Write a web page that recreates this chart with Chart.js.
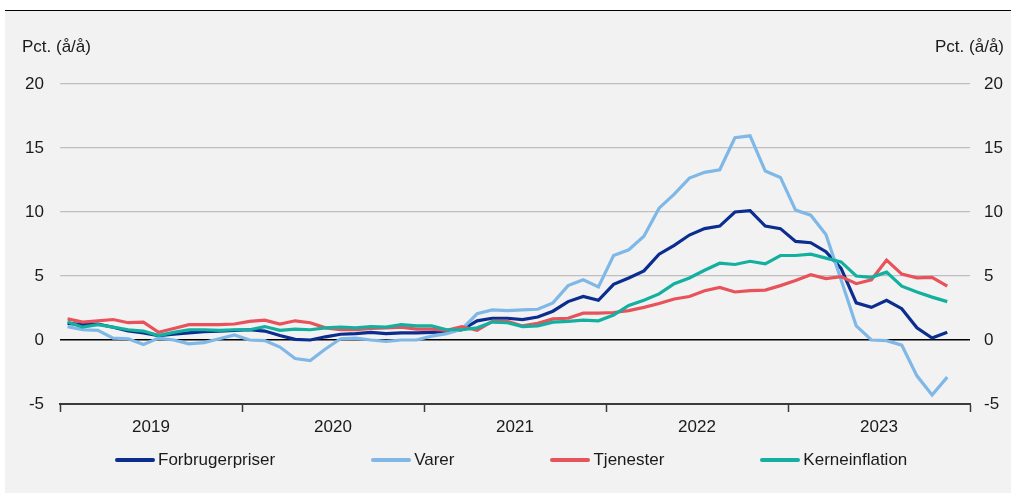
<!DOCTYPE html>
<html lang="da">
<head>
    <meta charset="UTF-8">
    <title>Forbrugerpriser, varer, tjenester og kerneinflation</title>
    <script src="https://cdn.jsdelivr.net/npm/chart.js"></script>
    <style>
        * {
            margin: 0;
            padding: 0;
            box-sizing: border-box;
        }

        body {
            width: 1011px;
            height: 493px;
            background: #fff;
            font-family: 'Liberation Sans', Arial, sans-serif;
            color: #1a1a1a;
            position: relative;
            overflow: hidden;
        }

        /* grey panel with the black rule on top */
        .panel {
            position: absolute;
            left: 5px;
            top: 10px;
            width: 1006px;
            height: 483px;
            background: #f2f2f2;
            border-top: 1px solid #000;
        }

        #chart {
            position: absolute;
            left: 0;
            top: 11px;
        }

        .unit {
            position: absolute;
            top: 37px;
            font-size: 17px;
        }

        .unit.left { left: 22px; }
        .unit.right { right: 7px; }

        /* Legend */
        .legend {
            position: absolute;
            left: 115px;
            top: 450px;
            display: flex;
            gap: 96px;
            font-size: 17px;
        }

        .legend .item {
            display: flex;
            align-items: center;
        }

        .legend .swatch {
            width: 40px;
            height: 4px;
            border-radius: 2px;
            margin-right: 3px;
        }
    </style>
</head>
<body>
    <div class="panel"></div>
    <canvas id="chart" width="1011" height="482"></canvas>
    <div class="unit left">Pct. (å/å)</div>
    <div class="unit right">Pct. (å/å)</div>
    <div class="legend" id="legend"></div>

    <script>
        // monthly values, Jan 2019 - Nov 2023 (pct. y/y)
        var years = [2019, 2020, 2021, 2022, 2023];
        var yTicks = [-5, 0, 5, 10, 15, 20];

        var forbrugerpriser = [
            1.3, 1.2, 1.25, 1.0, 0.7, 0.55, 0.35, 0.45, 0.55, 0.65, 0.7, 0.75,
            0.8, 0.7, 0.35, 0.05, 0.0, 0.25, 0.45, 0.5, 0.6, 0.5, 0.55, 0.55,
            0.6, 0.65, 0.8, 1.5, 1.7, 1.7, 1.6, 1.8, 2.25, 3.0, 3.4, 3.1,
            4.35, 4.85, 5.4, 6.7, 7.4, 8.2, 8.7, 8.9, 10.0, 10.1, 8.9, 8.7,
            7.7, 7.6, 6.9, 5.6, 2.9, 2.55, 3.1, 2.45, 0.95, 0.15, 0.6
        ];
        var varer = [
            1.05, 0.8, 0.75, 0.15, 0.1, -0.35, 0.15, 0.0, -0.3, -0.2, 0.1, 0.4,
            0.0, -0.05, -0.55, -1.45, -1.6, -0.7, 0.1, 0.15, 0.0, -0.1, 0.0, 0.0,
            0.3, 0.5, 0.85, 2.05, 2.35, 2.3, 2.35, 2.4, 2.9, 4.25, 4.7, 4.15,
            6.6, 7.05, 8.1, 10.3, 11.4, 12.65, 13.1, 13.3, 15.8, 15.95, 13.2, 12.7,
            10.15, 9.75, 8.25, 4.7, 1.1, 0.0, -0.05, -0.4, -2.8, -4.3, -2.9
        ];
        var tjenester = [
            1.65, 1.4, 1.5, 1.6, 1.35, 1.4, 0.6, 0.9, 1.2, 1.2, 1.2, 1.25,
            1.45, 1.55, 1.25, 1.5, 1.35, 0.95, 0.8, 0.8, 0.9, 0.95, 1.0, 0.85,
            0.85, 0.75, 1.05, 0.75, 1.45, 1.45, 1.1, 1.3, 1.65, 1.7, 2.1, 2.1,
            2.15, 2.3, 2.55, 2.85, 3.2, 3.4, 3.85, 4.1, 3.75, 3.85, 3.9, 4.25,
            4.65, 5.1, 4.8, 4.95, 4.4, 4.7, 6.25, 5.15, 4.85, 4.9, 4.2
        ];
        var kerneinflation = [
            1.4, 1.0, 1.2, 1.0, 0.8, 0.7, 0.35, 0.6, 0.8, 0.8, 0.75, 0.8,
            0.8, 1.05, 0.75, 0.85, 0.8, 0.95, 1.0, 0.95, 1.05, 1.0, 1.2, 1.1,
            1.1, 0.8, 0.8, 0.95, 1.4, 1.35, 1.05, 1.1, 1.4, 1.45, 1.55, 1.5,
            1.95, 2.7, 3.1, 3.6, 4.4, 4.85, 5.45, 6.0, 5.9, 6.15, 5.95, 6.6,
            6.6, 6.7, 6.4, 6.1, 5.0, 4.9, 5.3, 4.2, 3.75, 3.35, 3.0
        ];

        var series = [
            { name: 'Forbrugerpriser', data: forbrugerpriser, color: '#0a2d8f' },
            { name: 'Varer', data: varer, color: '#7fb8e6' },
            { name: 'Tjenester', data: tjenester, color: '#e8525b' },
            { name: 'Kerneinflation', data: kerneinflation, color: '#13b0a0' }
        ];

        // month i sits in the middle of its slot on a 0..60 month axis
        function toPoints(arr) {
            return arr.map(function (v, i) { return { x: i + 0.5, y: v }; });
        }

        var font = { family: "'Liberation Sans', Arial, sans-serif", size: 17 };
        Chart.defaults.color = '#1a1a1a';

        function yAxis(position, pad) {
            return {
                type: 'linear',
                position: position,
                min: -5,
                max: 20,
                afterBuildTicks: function (axis) {
                    axis.ticks = yTicks.map(function (v) { return { value: v }; });
                },
                afterFit: function (axis) {
                    axis.width = position === 'left' ? 60 : 41;
                },
                border: { display: false },
                grid: {
                    display: position === 'left',
                    drawTicks: false,
                    color: function (ctx) {
                        if (ctx.tick.value === 0) return '#000';
                        if (ctx.tick.value === -5) return 'rgba(0,0,0,0)';
                        return '#bfbfbf';
                    },
                    lineWidth: function (ctx) {
                        return ctx.tick.value === 0 ? 1.5 : 1.2;
                    }
                },
                ticks: { font: font, padding: pad }
            };
        }

        new Chart(document.getElementById('chart'), {
            type: 'line',
            data: {
                datasets: series.map(function (s) {
                    return {
                        label: s.name,
                        data: toPoints(s.data),
                        borderColor: s.color,
                        backgroundColor: s.color,
                        borderWidth: 3.2,
                        pointRadius: 0,
                        tension: 0,
                        yAxisID: 'y'
                    };
                }).reverse()
            },
            options: {
                responsive: false,
                animation: false,
                devicePixelRatio: 1,
                layout: { padding: { top: 73, bottom: 55 } },
                plugins: {
                    legend: { display: false },
                    tooltip: { enabled: false }
                },
                scales: {
                    x: {
                        type: 'linear',
                        min: 0,
                        max: years.length * 12,
                        afterBuildTicks: function (axis) {
                            var t = [];
                            for (var v = 0; v <= years.length * 12; v += 6) t.push({ value: v });
                            axis.ticks = t;
                        },
                        afterFit: function (axis) { axis.height = 34; },
                        border: { color: '#3a3a3a', width: 2 },
                        grid: {
                            drawOnChartArea: false,
                            tickLength: 8,
                            tickWidth: 1.5,
                            tickColor: function (ctx) {
                                return ctx.tick && ctx.tick.value % 12 === 0 ? '#3a3a3a' : 'rgba(0,0,0,0)';
                            }
                        },
                        ticks: {
                            font: font,
                            padding: 5,
                            autoSkip: false,
                            maxRotation: 0,
                            callback: function (v) {
                                return v % 12 === 6 ? String(years[(v - 6) / 12]) : '';
                            }
                        }
                    },
                    y: yAxis('left', 16),
                    y2: yAxis('right', 14)
                }
            }
        });

        // legend built from the same series list
        var legend = document.getElementById('legend');
        series.forEach(function (s) {
            var item = document.createElement('div');
            item.className = 'item';
            item.innerHTML = '<span class="swatch" style="background:' + s.color + '"></span>' + s.name;
            legend.appendChild(item);
        });
    </script>
</body>
</html>
